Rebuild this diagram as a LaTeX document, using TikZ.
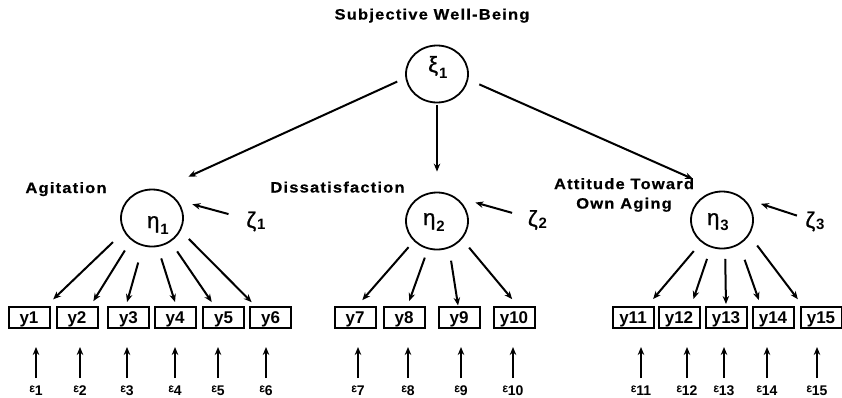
\documentclass[tikz,border=0pt]{standalone}
\usepackage{fontspec}
\setmainfont{Liberation Sans}
\newfontfamily\hfont{Liberation Sans}[FakeStretch=1.1,LetterSpace=8,FakeBold=0.6]
\newfontfamily\gfont{Liberation Sans}[FakeBold=1.2]
\usetikzlibrary{arrows.meta,shapes.geometric,calc}
\newcommand{\gsub}[3]{{\gfont\fontsize{22}{22}\selectfont #1}\kern1pt\raisebox{#3}{\bfseries\fontsize{15}{15}\selectfont #2}}
\newcommand{\esub}[1]{\raisebox{3pt}{\gfont\fontsize{12}{12}\selectfont ε}{\bfseries\fontsize{14}{14}\selectfont #1}}
\newcommand{\loadarr}[6]{\draw[arr,shorten <=#3pt,shorten >=#6pt] (#1.#2) -- ($(#4.north west)!#5!(#4.north east)$);}
\tikzset{
 lat/.style={ellipse, draw, line width=1.8pt, minimum width=62pt, minimum height=57pt, inner sep=0pt},
 obs/.style={rectangle, draw, line width=2pt, minimum width=41pt, minimum height=21pt, inner sep=0pt, text height=12pt, text depth=0pt, font=\bfseries\fontsize{17}{17}\selectfont},
 head/.style={font=\hfont\bfseries\fontsize{15}{19.5}\selectfont, inner sep=0pt},
 arr/.style={-{Stealth[length=8pt,width=6.5pt]}, line width=2pt},
 glab/.style={inner sep=0pt, anchor=base west},
 elab/.style={inner sep=1pt, anchor=base},
}
\begin{document}
\begin{tikzpicture}[x=1pt,y=-1pt]
\useasboundingbox (0,0) rectangle (842,397);
\node[head, anchor=base] (title) at (432,19.5) {Subjective Well-Being};
\node[lat] (xi1) at (437,74) {};
\node[glab] (xi1lab) at (428,72) {\gsub{ξ}{1}{-6pt}};
\node[lat] (eta1) at (152,218) {};
\node[lat] (eta2) at (437,221) {};
\node[lat] (eta3) at (722,220) {};
\node[glab] (eta1lab) at (147,228) {\gsub{η}{1}{-6pt}};
\node[glab] (eta2lab) at (423,225) {\gsub{η}{2}{-6pt}};
\node[glab] (eta3lab) at (707,225) {\gsub{η}{3}{-5pt}};
\node[head, anchor=base] (agit) at (66,193) {Agitation};
\node[head, anchor=base] (diss) at (337.5,192.5) {Dissatisfaction};
\node[head, align=center] (att) at (624,195) {Attitude Toward\\Own Aging};
\node[inner sep=0pt] (zeta1) at (256,221.5) {\gsub{ζ}{1}{-2pt}};
\node[inner sep=0pt] (zeta2) at (537.5,220) {\gsub{ζ}{2}{-2pt}};
\node[inner sep=0pt] (zeta3) at (815,221.5) {\gsub{ζ}{3}{-2pt}};
\foreach \n/\x in {1/29,2/77,3/128.5,4/175,5/223.5,6/270.5,7/355,8/404,9/459,10/514,11/633,12/679,13/726,14/773,15/821}
  \node[obs] (y\n) at (\x,317.5) {y\n};
\draw[arr, shorten <=9pt, shorten >=31pt] (xi1.187) -- (eta1.74);
\draw[arr, shorten <=2pt, shorten >=20pt] (xi1) -- (eta2);
\draw[arr, shorten <=12pt, shorten >=29pt] (xi1.350) -- (eta3.95);
\draw[arr, shorten <=28.5pt, shorten >=15.5pt] (zeta1.center) -- (eta1.35);
\draw[arr, shorten <=26.4pt, shorten >=21pt] (zeta2.center) -- (eta2.53);
\draw[arr, shorten <=19pt, shorten >=18.6pt] (zeta3.center) -- (eta3.46);
\loadarr{eta1}{206}{15}{y1}{0.9}{9.6}
\loadarr{eta1}{227}{12}{y2}{0.81}{5.7}
\loadarr{eta1}{252}{17}{y3}{0.44}{4.1}
\loadarr{eta1}{281}{12}{y4}{0.53}{4.2}
\loadarr{eta1}{308}{11.5}{y5}{0.29}{4.8}
\loadarr{eta1}{336}{11.5}{y6}{0.15}{5.4}
\loadarr{eta2}{221}{8}{y7}{0.55}{7.8}
\loadarr{eta2}{252}{9}{y8}{0.58}{5.3}
\loadarr{eta2}{294}{12.6}{y9}{0.48}{0.5}
\loadarr{eta2}{324}{11}{y10}{0.59}{8.9}
\loadarr{eta3}{227}{11.5}{y11}{0.83}{9.1}
\loadarr{eta3}{248}{12}{y12}{0.78}{7.4}
\loadarr{eta3}{276}{9.5}{y13}{0.5}{2}
\loadarr{eta3}{305}{16}{y14}{0.22}{6.2}
\loadarr{eta3}{331}{13}{y15}{0.08}{8.5}
\foreach \n/\x in {1/36,2/80,3/127,4/175,5/218,6/266,7/358,8/408,9/461,10/513,11/641,12/687,13/724,14/767,15/817} {
  \node[elab] (e\n) at (\x,395) {\esub{\n}};
  \draw[arr, shorten <=6pt, shorten >=18pt] (e\n.north) -- (e\n.north |- y\n.south);
}
\end{tikzpicture}
\end{document}
